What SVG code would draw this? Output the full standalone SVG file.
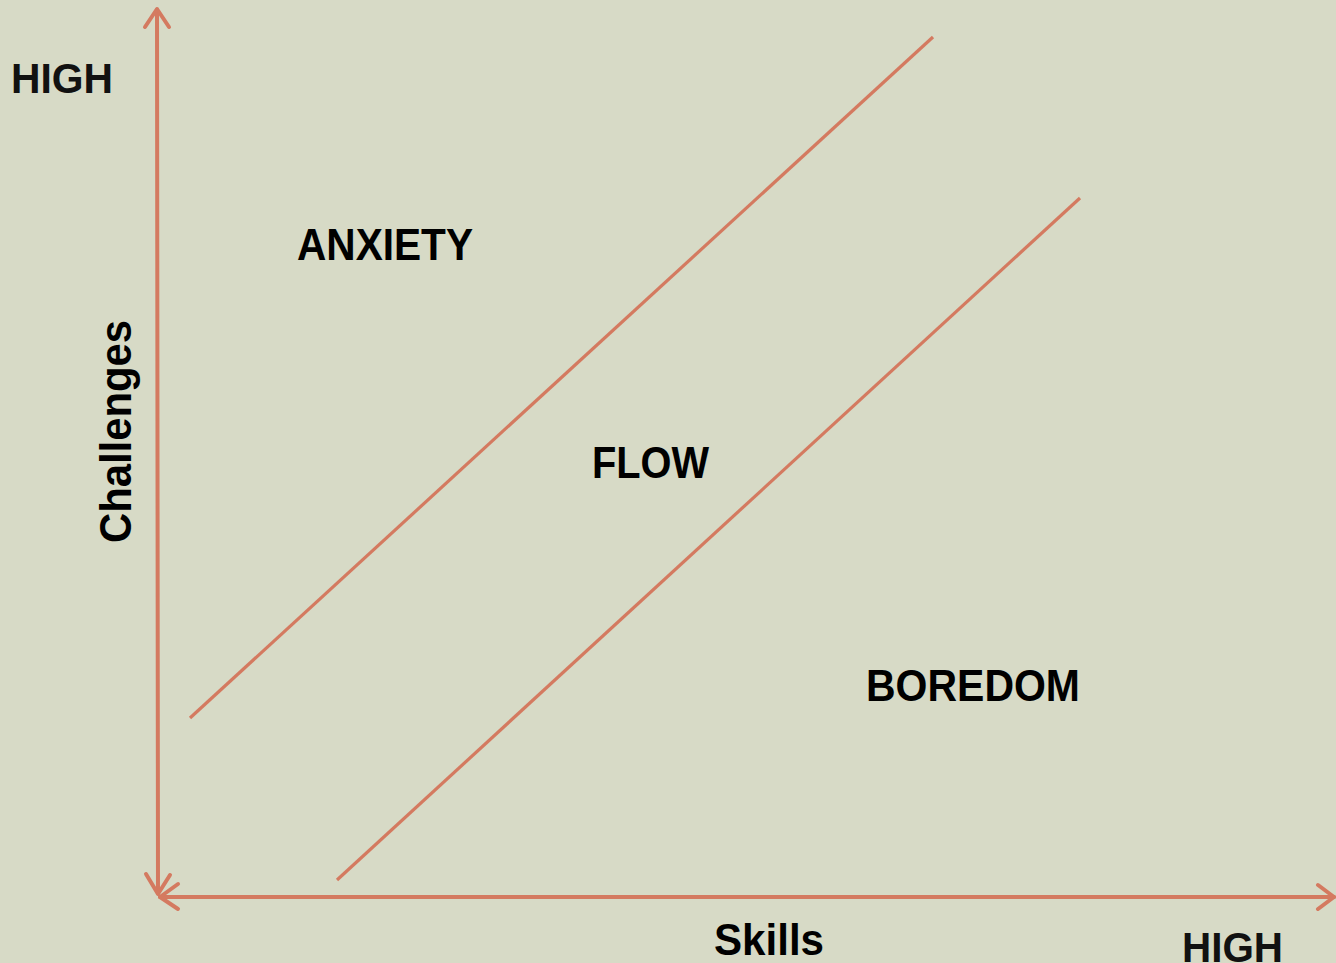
<svg xmlns="http://www.w3.org/2000/svg" width="1336" height="963" viewBox="0 0 1336 963">
<style>
.ax{stroke:#d47a60;stroke-width:4;fill:none;stroke-linecap:round;stroke-linejoin:round}
.ln{stroke:#d47a60;stroke-width:3.2;fill:none}
.lbl{font-family:"Liberation Sans",Arial,sans-serif;font-weight:bold;fill:#000}
.hi{font-family:"Liberation Sans",Arial,sans-serif;font-weight:bold;fill:#111;font-size:42px}
</style>
<rect width="1336" height="963" fill="#d7dac6"/>
<g id="connectors">
<path class="ax" d="M157,10 L158,893"/>
<path class="ax" d="M145,27 L157,9 L169,27"/>
<path class="ax" d="M146,874 L158,894 L170,875"/>
<path class="ax" d="M160,897 L1334,897"/>
<path class="ax" d="M178,884 L160,897 L178,909"/>
<path class="ax" d="M1318,885 L1334,897 L1318,909"/>
<line class="ln" x1="190" y1="718" x2="933" y2="37"/>
<line class="ln" x1="337" y1="880" x2="1080" y2="198"/>
</g>
<g id="high-y"><text class="hi" x="11" y="93" textLength="102" lengthAdjust="spacingAndGlyphs">HIGH</text></g>
<g id="challenges"><text class="lbl" font-size="44" transform="translate(131,543) rotate(-90)" textLength="223" lengthAdjust="spacingAndGlyphs">Challenges</text></g>
<g id="anxiety"><text class="lbl" font-size="45" x="297" y="260" textLength="176" lengthAdjust="spacingAndGlyphs">ANXIETY</text></g>
<g id="flow"><text class="lbl" font-size="45" x="592" y="478" textLength="117" lengthAdjust="spacingAndGlyphs">FLOW</text></g>
<g id="boredom"><text class="lbl" font-size="45" x="866" y="701" textLength="214" lengthAdjust="spacingAndGlyphs">BOREDOM</text></g>
<g id="skills"><text class="lbl" font-size="44" x="714" y="955" textLength="110" lengthAdjust="spacingAndGlyphs">Skills</text></g>
<g id="high-x"><text class="hi" x="1182" y="962" textLength="101" lengthAdjust="spacingAndGlyphs">HIGH</text></g>
</svg>
